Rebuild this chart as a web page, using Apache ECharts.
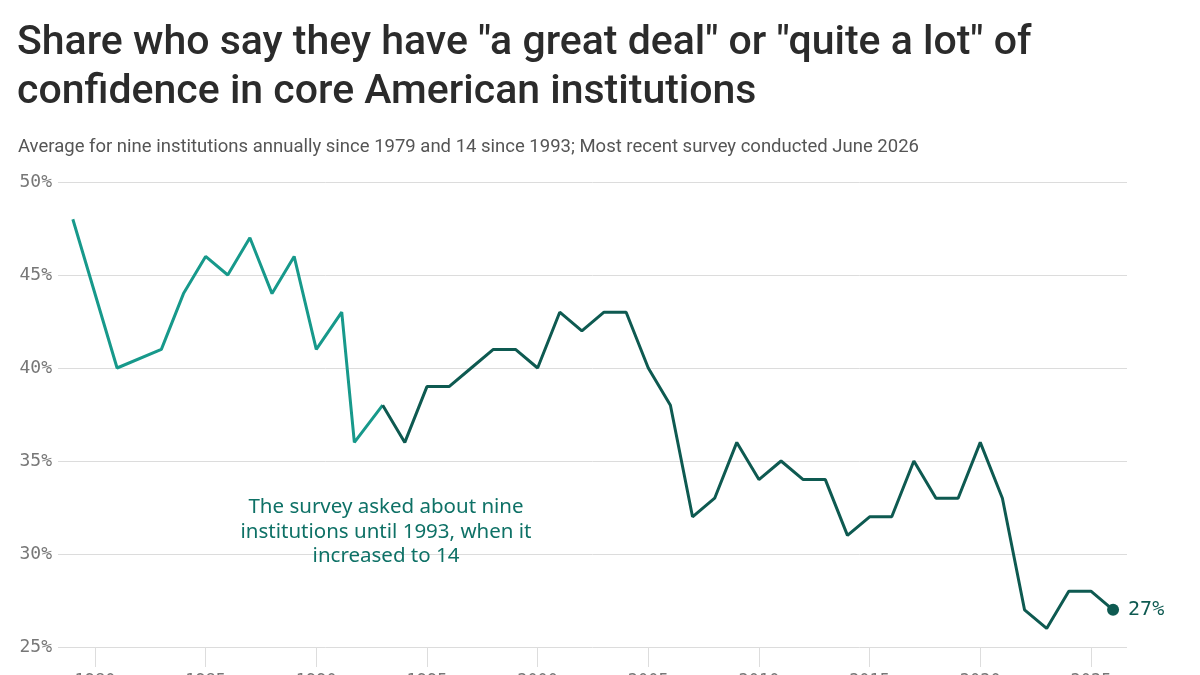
<!DOCTYPE html>
<html>
<head>
<meta charset="utf-8">
<script src="https://cdn.jsdelivr.net/npm/echarts@6/dist/echarts.min.js"></script>
<style>html,body{margin:0;padding:0;background:#fff}#c{width:1200px;height:675px}</style>
</head>
<body>
<div id="c"></div>
<script>
const titleText = 'Share who say they have "a great deal" or "quite a lot" of\nconfidence in core American institutions';
const subtitleText = 'Average for nine institutions annually since 1979 and 14 since 1993; Most recent survey conducted June 2026';
const annotationText = 'The survey asked about nine\ninstitutions until 1993, when it\nincreased to 14';

const nineYears = [1979, 1981, 1983, 1984, 1985, 1986, 1987, 1988, 1989, 1990, 1991.15, 1991.72, 1993];
const nineValues = [48, 40, 41, 44, 46, 45, 47, 44, 46, 41, 43, 36, 38];

const fourteenYears = [1993, 1994, 1995, 1996, 1997, 1998, 1999, 2000, 2001, 2002, 2003, 2004, 2005, 2006, 2007, 2008, 2009, 2010, 2011, 2012, 2013, 2014, 2015, 2016, 2017, 2018, 2019, 2020, 2021, 2022, 2023, 2024, 2025, 2026];
const fourteenValues = [38, 36, 39, 39, 40, 41, 41, 40, 43, 42, 43, 43, 40, 38, 32, 33, 36, 34, 35, 34, 34, 31, 32, 32, 35, 33, 33, 36, 33, 27, 26, 28, 28, 27];

const xTickYears = [1980, 1985, 1990, 1995, 2000, 2005, 2010, 2015, 2020, 2025];
const yTicks = [25, 30, 35, 40, 45, 50];

const lightColor = '#17998b';
const darkColor = '#0e5a51';
const mono = '"DejaVu Sans Mono", "Liberation Mono", monospace';

const chart = echarts.init(document.getElementById('c'), null, {renderer: 'canvas'});

const nineData = nineYears.map((y, i) => [y, nineValues[i]]);
const fourteenData = fourteenYears.map((y, i) => {
  const item = {value: [y, fourteenValues[i]]};
  if (i === fourteenYears.length - 1) {
    item.symbol = 'circle';
    item.symbolSize = 12;
    item.itemStyle = {color: darkColor};
    item.label = {
      show: true, position: 'right', distance: 9,
      formatter: p => p.value[1] + '%',
      fontFamily: mono, fontSize: 20, color: darkColor
    };
  }
  return item;
});

chart.setOption({
  animation: false,
  backgroundColor: '#fff',
  title: [
    {
      text: titleText, left: 12, top: 14,
      textStyle: {fontFamily: 'Roboto', fontWeight: 500, fontSize: 41, lineHeight: 49, color: '#2b2b2b'}
    },
    {
      text: subtitleText, left: 13, top: 133,
      textStyle: {fontFamily: 'Roboto', fontWeight: 400, fontSize: 18.5, color: '#555'}
    }
  ],
  graphic: [{
    type: 'text', x: 386, y: 495, z: 10,
    style: {
      text: annotationText, textAlign: 'center',
      font: '20.5px "Noto Sans"', fill: '#0e7166', lineHeight: 24.5
    }
  }],
  grid: {left: 58, right: 73, top: 182, bottom: 28, containLabel: false, outerBoundsMode: 'none'},
  xAxis: {
    type: 'value', min: 1978.33, max: 2026.63,
    axisLine: {show: false},
    splitLine: {show: false},
    axisTick: {show: true, customValues: xTickYears, length: 20, lineStyle: {color: '#ddd'}},
    axisLabel: {show: true, customValues: xTickYears, margin: 26, fontFamily: mono, fontSize: 17, color: '#777', formatter: v => String(v)}
  },
  yAxis: {
    type: 'value', min: 25, max: 50, interval: 5,
    axisLine: {show: false}, axisTick: {show: false},
    splitLine: {lineStyle: {color: '#dcdcdc', width: 1}},
    axisLabel: {formatter: v => v + '%', fontFamily: mono, fontSize: 18, color: '#777', margin: 6}
  },
  series: [
    {
      type: 'line', data: nineData, showSymbol: false, symbol: 'none',
      lineStyle: {color: lightColor, width: 3}, z: 3
    },
    {
      type: 'line', data: fourteenData, symbol: 'none', showSymbol: true,
      lineStyle: {color: darkColor, width: 3}, z: 4
    }
  ]
});
</script>
</body>
</html>
